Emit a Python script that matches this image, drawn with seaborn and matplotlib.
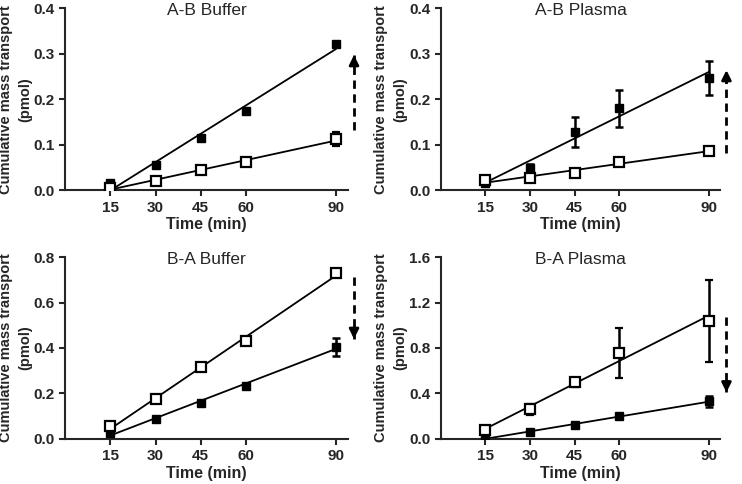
import numpy as np
import pandas as pd
import matplotlib
matplotlib.use("Agg")
import matplotlib.pyplot as plt
import seaborn as sns
from matplotlib.ticker import FormatStrFormatter

# ---------------- data ----------------
times = [15, 30, 45, 60, 90]
titles = ["A-B Buffer", "A-B Plasma", "B-A Buffer", "B-A Plasma"]

filled_mean = [
    [0.015, 0.055, 0.115, 0.175, 0.322],
    [0.015, 0.048, 0.128, 0.180, 0.247],
    [0.025, 0.090, 0.160, 0.235, 0.405],
    [0.010, 0.060, 0.125, 0.200, 0.330],
]
filled_err = [
    [0.006, 0.005, 0.006, 0.004, 0.003],
    [0.006, 0.010, 0.033, 0.040, 0.037],
    [0.004, 0.006, 0.006, 0.006, 0.040],
    [0.005, 0.008, 0.010, 0.012, 0.045],
]
open_mean = [
    [0.005, 0.020, 0.045, 0.062, 0.112],
    [0.022, 0.027, 0.037, 0.062, 0.087],
    [0.055, 0.175, 0.315, 0.430, 0.730],
    [0.075, 0.260, 0.500, 0.760, 1.040],
]
open_err = [
    [0.004, 0.003, 0.008, 0.004, 0.015],
    [0.010, 0.003, 0.003, 0.004, 0.003],
    [0.008, 0.015, 0.008, 0.015, 0.012],
    [0.020, 0.050, 0.040, 0.220, 0.360],
]
y_max = [0.4, 0.4, 0.8, 1.6]
y_step = [0.1, 0.1, 0.2, 0.4]
# dashed arrows: (start, end) in data units
arrow_from = [0.132, 0.081, 0.712, 1.07]
arrow_to = [0.297, 0.264, 0.440, 0.410]

# ---------------- style ----------------
sns.set_style("ticks")
plt.rcParams["font.family"] = ["Liberation Sans", "DejaVu Sans"]
plt.rcParams["axes.linewidth"] = 1.5

fig = plt.figure(figsize=(7.42, 4.84), dpi=100)
positions = [
    [0.088, 0.607, 0.381, 0.376],
    [0.594, 0.607, 0.377, 0.376],
    [0.088, 0.093, 0.381, 0.376],
    [0.594, 0.093, 0.377, 0.376],
]

for i in range(4):
    ax = fig.add_axes(positions[i])
    df = pd.DataFrame({
        "time": times,
        "filled": filled_mean[i],
        "open": open_mean[i],
    })

    for col in ["filled", "open"]:
        sns.regplot(data=df, x="time", y=col, ax=ax, scatter=False, ci=None,
                    truncate=True, color="black", line_kws={"lw": 1.3})

    ax.errorbar(times, filled_mean[i], yerr=filled_err[i], fmt="s", color="black",
                ms=6, capsize=3, elinewidth=1.8, capthick=1.8, zorder=5)
    ax.errorbar(times, open_mean[i], yerr=open_err[i], fmt="s", color="black",
                mfc="white", mec="black", mew=1.6, ms=7, capsize=3,
                elinewidth=1.8, capthick=1.8, zorder=6)

    # dashed arrow beside the 90 min points
    ax.plot([96, 96], [arrow_from[i], arrow_to[i]], ls=(0, (3, 2)), lw=2,
            color="black", clip_on=False)
    ax.annotate("", xy=(96, arrow_to[i]),
                xytext=(96, arrow_to[i] - np.sign(arrow_to[i] - arrow_from[i]) * y_max[i] * 0.06),
                arrowprops=dict(arrowstyle="-|>", color="black", lw=2,
                                mutation_scale=14, shrinkA=0, shrinkB=0),
                annotation_clip=False)

    ax.set_xlim(0, 94)
    ax.set_ylim(0, y_max[i])
    ax.set_xticks(times)
    ax.set_yticks(np.arange(0, y_max[i] + 1e-9, y_step[i]))
    ax.yaxis.set_major_formatter(FormatStrFormatter("%.1f"))
    ax.tick_params(width=1.5, length=4, labelsize=11)
    for lab in ax.get_xticklabels() + ax.get_yticklabels():
        lab.set_fontweight("bold")

    ax.set_xlabel("Time (min)", fontsize=11.5, fontweight="bold", labelpad=2)
    ax.set_ylabel("Cumulative mass transport\n(pmol)", fontsize=10.5,
                  fontweight="bold", labelpad=1, linespacing=1.5)
    ax.set_title(titles[i], fontsize=12.5, y=0.915)
    sns.despine(ax=ax)

fig.savefig("out.png", dpi=100)
